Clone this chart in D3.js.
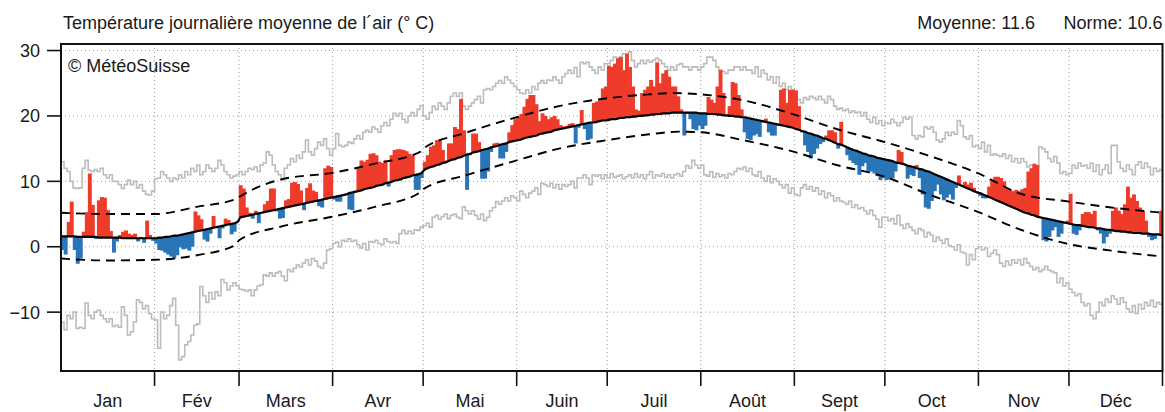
<!DOCTYPE html>
<html><head><meta charset="utf-8">
<script src="https://cdn.jsdelivr.net/npm/d3@7"></script>
<style>
body{margin:0;background:#fff}
svg{display:block}
text{font-family:"Liberation Sans",Arial,Helvetica,sans-serif;fill:#1a1a1a}
</style>
</head><body>
<svg id="c" width="1165" height="412"></svg>
<script>
const monthNames = ["Jan","Fév","Mars","Avr","Mai","Juin","Juil","Août","Sept","Oct","Nov","Déc"];
const monthStarts = [0,31,59,90,120,151,181,212,243,273,304,334,365];
const yTicks = [-10,0,10,20,30];
const yTickLabels = ["\u221210","0","10","20","30"];
const titleText = "Température journalière moyenne de l\u00B4air (° C)";
const meanText = "Moyenne: 11.6";
const normText = "Norme: 10.6";
const creditText = "© MétéoSuisse";

// daily mean temperature (°C), one value per day
const dailyMean = [].concat(
 [-0.5,-1.2,3.8,6.9,-0.5,-2.6,-1.8,2.3,5.3,11.2,6.4,1.2,7.1,7.6,7.5,5.6,2.4,-0.9,0.8,1.8,2.3,2.5,2.0,1.8,2.0,0.8,1.5,0.6,4.0,1.8,0.9],
 [0.5,-0.5,-0.6,-0.9,-1.2,-1.5,-1.8,-1.3,-0.1,-0.4,-0.3,-0.6,0.0,5.4,4.8,4.2,1.1,0.8,2.0,4.7,3.0,1.3,2.8,4.3,4.1,1.9,2.3,3.9],
 [9.4,8.9,6.0,5.2,4.3,5.5,3.6,5.3,6.5,7.0,8.9,8.9,5.4,4.3,4.4,7.1,7.3,9.8,9.9,9.6,8.6,5.6,9.0,9.7,8.6,8.4,6.2,6.0,12.0,12.4,12.2],
 [7.2,6.9,6.9,7.8,8.1,5.7,5.6,8.6,12.0,13.2,13.0,13.3,14.2,14.3,14.0,13.0,12.8,13.2,9.2,14.0,14.8,14.9,14.9,14.8,14.6,14.2,13.9,8.7,8.7,10.5],
 [13.0,14.0,15.3,15.5,16.3,16.3,14.8,13.2,15.8,15.8,18.3,18.0,22.6,17.8,8.7,14.0,17.3,17.3,16.0,10.4,10.4,11.5,14.5,15.8,15.9,13.5,13.5,14.5,17.5,18.6,19.5],
 [19.8,20.3,21.4,22.6,23.2,23.2,21.8,19.2,20.4,20.0,19.5,19.8,20.0,19.5,18.6,18.4,18.5,18.8,18.9,15.8,18.2,20.9,18.0,16.3,16.5,22.0,22.2,22.4,24.2,24.5],
 [27.7,27.5,28.0,28.8,29.0,27.0,29.5,27.5,24.5,21.0,20.8,23.5,24.0,24.5,25.5,24.5,28.2,25.0,26.5,27.0,26.0,24.5,24.5,23.0,21.0,17.0,20.3,19.5,18.0,17.8,18.5],
 [18.0,18.5,22.9,22.5,22.0,24.5,27.0,23.5,20.0,21.5,25.2,25.0,23.2,21.0,17.5,16.5,16.3,17.0,17.2,16.8,19.0,19.6,17.5,17.0,17.0,18.5,24.0,24.2,22.0,24.0,24.0],
 [23.9,21.5,17.5,15.5,14.5,13.5,14.2,15.0,15.7,16.0,17.0,17.8,17.8,17.5,15.0,19.1,15.5,14.0,13.2,12.8,12.5,11.0,12.3,12.8,11.5,11.5,11.2,10.8,10.2,10.5],
 [10.2,10.3,10.5,11.5,14.8,14.5,12.5,10.4,11.0,10.8,12.5,10.5,8.0,6.0,5.8,7.0,8.5,9.5,8.0,7.1,7.5,8.0,7.2,9.0,10.9,9.5,9.9,9.5,9.8,9.0,8.5],
 [7.8,7.4,7.4,9.2,10.2,10.7,10.7,10.5,10.0,9.0,8.7,8.5,8.7,8.5,8.8,9.0,11.5,12.0,12.7,12.5,4.5,1.0,0.8,1.5,2.5,3.0,1.5,2.0,3.5,4.0],
 [8.1,2.0,1.8,2.5,5.0,5.3,5.3,5.0,5.5,2.5,2.0,0.5,1.5,2.0,5.5,6.0,5.5,5.0,6.5,9.2,7.5,8.0,7.0,6.0,5.5,4.0,1.5,1.0,1.2,1.8,5.5]
);

// climatological norm (°C), one value per day
const normal = [].concat(
 [1.6,1.6,1.6,1.6,1.6,1.5,1.5,1.5,1.5,1.5,1.5,1.5,1.4,1.4,1.4,1.4,1.4,1.4,1.4,1.4,1.3,1.3,1.3,1.3,1.3,1.3,1.3,1.3,1.3,1.3,1.3],
 [1.3,1.4,1.4,1.5,1.5,1.6,1.7,1.7,1.8,1.9,2.0,2.1,2.2,2.3,2.4,2.5,2.6,2.7,2.8,2.9,3.0,3.1,3.2,3.3,3.4,3.5,3.6,3.8],
 [4.5,4.6,4.7,4.8,4.9,5.0,5.1,5.2,5.3,5.4,5.5,5.6,5.7,5.8,5.9,6.0,6.1,6.2,6.3,6.4,6.5,6.6,6.7,6.8,6.9,7.0,7.1,7.2,7.3,7.4,7.5],
 [7.6,7.7,7.8,7.9,8.0,8.2,8.3,8.4,8.5,8.6,8.8,8.9,9.0,9.1,9.3,9.4,9.5,9.7,9.8,9.9,10.1,10.2,10.3,10.5,10.6,10.7,10.9,11.0,11.1,11.3],
 [11.8,12.0,12.2,12.3,12.5,12.6,12.8,12.9,13.1,13.3,13.4,13.6,13.7,13.9,14.1,14.2,14.4,14.5,14.6,14.8,14.9,15.0,15.2,15.3,15.4,15.6,15.7,15.8,16.0,16.1,16.2],
 [16.3,16.4,16.6,16.7,16.8,16.9,17.0,17.2,17.3,17.4,17.5,17.6,17.8,17.9,18.0,18.1,18.2,18.3,18.4,18.5,18.6,18.7,18.8,18.9,19.0,19.0,19.1,19.2,19.3,19.3],
 [19.4,19.5,19.5,19.6,19.7,19.7,19.8,19.8,19.9,19.9,20.0,20.0,20.1,20.1,20.2,20.2,20.3,20.3,20.4,20.4,20.4,20.5,20.5,20.5,20.5,20.5,20.5,20.5,20.5,20.5,20.4],
 [20.4,20.4,20.3,20.3,20.3,20.2,20.2,20.1,20.1,20.0,20.0,19.9,19.9,19.8,19.8,19.7,19.6,19.5,19.4,19.3,19.2,19.1,19.0,18.9,18.8,18.7,18.6,18.5,18.4,18.3,18.2],
 [18.0,17.9,17.7,17.6,17.4,17.3,17.1,17.0,16.8,16.6,16.5,16.3,16.1,15.9,15.7,15.6,15.4,15.2,15.0,14.8,14.7,14.5,14.3,14.2,14.0,13.9,13.8,13.6,13.5,13.4],
 [13.3,13.2,13.1,12.9,12.8,12.7,12.6,12.4,12.3,12.2,12.0,11.9,11.8,11.6,11.5,11.3,11.1,10.9,10.7,10.5,10.3,10.1,9.9,9.7,9.5,9.3,9.1,8.9,8.7,8.5,8.3],
 [8.2,8.0,7.8,7.6,7.4,7.2,7.0,6.8,6.6,6.4,6.2,6.0,5.8,5.6,5.4,5.2,5.1,4.9,4.8,4.6,4.5,4.4,4.3,4.2,4.1,4.0,3.9,3.8,3.7,3.6],
 [3.5,3.4,3.3,3.3,3.2,3.1,3.0,3.0,2.9,2.8,2.8,2.7,2.6,2.6,2.5,2.4,2.4,2.3,2.3,2.2,2.2,2.1,2.1,2.1,2.0,2.0,2.0,1.9,1.9,1.9,1.8]
);

// highest daily mean on record (°C)
const recordMax = [].concat(
 [13.0,12.0,11.5,10.0,9.0,8.9,9.0,12.0,13.2,11.7,11.5,11.8,11.5,12.0,11.0,10.5,11.0,10.0,10.0,9.5,8.9,9.5,10.2,9.5,10.0,9.0,9.5,8.5,8.0,7.9,8.5],
 [10.4,10.5,11.5,11.0,10.5,10.0,10.5,10.3,11.0,10.5,11.5,11.0,12.0,11.5,12.5,11.0,11.5,12.5,12.0,11.5,12.0,13.2,12.5,11.5,11.0,10.5,10.8,11.0],
 [11.5,11.0,11.5,12.0,11.8,12.2,11.5,12.5,12.8,14.5,14.0,12.5,11.5,11.0,10.2,12.0,12.5,13.5,13.0,14.0,13.5,14.5,16.3,14.5,14.0,15.0,16.0,15.5,16.5,15.0,14.0],
 [15.0,17.3,15.5,15.3,15.5,16.0,15.8,16.5,17.0,16.5,17.5,17.8,17.5,18.3,18.0,17.5,18.5,19.0,18.5,19.5,20.4,20.0,20.4,19.5,19.0,20.0,20.5,20.0,21.0,21.6],
 [20.0,19.5,20.5,21.5,21.0,22.0,21.5,21.0,22.0,23.0,23.5,23.0,23.5,21.5,21.0,21.5,22.0,22.5,23.0,22.0,24.0,24.2,24.0,24.5,25.0,25.4,25.0,26.0,25.5,25.0,24.5],
 [24.0,23.5,23.4,24.0,23.5,24.5,24.0,25.0,25.4,25.0,25.5,25.4,26.0,25.5,25.0,26.0,26.5,27.0,26.5,27.4,26.0,28.2,28.0,28.2,27.5,27.0,26.5,27.5,27.0,28.0],
 [28.0,28.5,29.0,28.8,29.0,29.5,29.5,29.8,28.5,27.5,28.0,28.5,28.0,28.5,28.2,28.5,28.8,28.5,28.0,27.5,27.0,27.5,27.0,27.8,28.0,27.5,27.5,27.0,27.5,27.5,27.0],
 [27.5,28.0,29.0,29.0,28.5,27.5,27.0,26.8,26.5,27.0,27.0,27.5,27.5,27.0,27.5,27.0,27.0,26.5,27.5,26.0,27.0,26.5,25.5,26.0,25.0,26.0,24.5,25.0,24.0,24.5,24.0],
 [23.0,22.5,22.0,22.8,22.5,23.0,22.8,22.5,23.0,22.5,22.0,23.0,22.5,21.5,21.0,21.2,20.8,21.0,20.5,20.8,20.5,20.6,20.0,20.5,19.5,19.0,19.8,18.8,19.3,18.5],
 [19.0,18.8,19.5,19.0,18.5,19.0,19.8,19.5,19.8,17.0,16.5,17.0,16.8,18.3,18.0,18.3,17.5,16.3,16.0,16.5,17.5,17.0,17.5,17.2,19.3,18.5,16.8,16.5,17.0,15.3,15.5],
 [15.0,16.0,14.5,15.5,14.0,14.2,14.0,13.8,14.2,13.5,14.0,13.0,13.5,12.8,13.5,13.0,12.2,12.5,12.0,12.2,15.3,15.0,14.5,13.5,13.0,13.8,12.8,11.2,11.5,11.0],
 [11.2,12.5,12.0,12.8,12.3,12.5,12.0,12.8,11.5,12.5,11.0,11.8,12.5,11.2,15.5,15.5,13.0,12.0,11.5,12.5,11.8,11.0,12.5,13.0,12.0,12.8,12.2,11.0,12.0,11.5,11.8]
);

// lowest daily mean on record (°C)
const recordMin = [].concat(
 [-11.5,-12.7,-10.5,-11.0,-10.0,-12.5,-12.3,-12.5,-8.6,-10.5,-11.0,-10.0,-9.7,-10.5,-11.0,-11.5,-11.0,-12.2,-12.0,-12.3,-9.2,-10.5,-13.5,-13.0,-11.5,-8.1,-8.5,-9.5,-9.0,-10.2,-11.0],
 [-11.2,-15.5,-10.0,-11.0,-10.5,-9.0,-7.9,-12.0,-17.3,-16.8,-15.0,-14.5,-13.5,-12.0,-11.8,-6.1,-7.5,-8.5,-7.0,-8.0,-6.9,-7.5,-5.0,-5.5,-6.6,-6.0,-5.5,-6.0],
 [-6.5,-6.6,-6.8,-6.6,-7.5,-6.6,-6.0,-5.8,-4.3,-4.5,-4.0,-4.5,-4.0,-3.8,-4.5,-5.2,-3.5,-3.8,-3.3,-2.8,-3.1,-2.5,-2.0,-2.8,-1.8,-2.2,-3.0,-3.3,-2.5,-0.5,-0.3],
 [0.5,0.7,0.0,1.0,0.8,1.2,0.8,1.0,0.3,-0.2,0.5,-0.5,0.8,0.7,1.0,0.5,0.3,1.2,0.8,0.6,0.8,0.5,2.0,2.5,2.0,2.4,2.0,2.6,2.5,3.0],
 [3.2,3.6,3.0,4.5,4.8,4.2,4.6,5.0,4.3,4.8,5.0,4.5,4.3,6.1,5.5,5.0,5.5,4.8,4.2,5.0,4.0,4.5,5.5,6.0,6.9,6.5,7.0,7.5,7.0,7.8,7.5],
 [7.0,8.5,8.0,7.5,8.2,8.5,9.0,8.0,9.7,9.5,9.2,9.7,9.0,9.5,8.8,9.5,9.2,9.5,10.0,9.0,10.5,10.5,11.0,10.5,9.5,11.0,10.8,11.0,10.4,11.0],
 [10.5,11.2,10.6,10.8,11.0,10.4,10.7,11.0,10.5,11.2,10.6,11.0,10.4,11.0,11.5,10.5,11.0,10.8,11.2,10.6,11.0,10.5,11.0,11.2,10.8,11.5,12.4,12.0,13.2,12.5,12.0],
 [12.5,11.0,10.8,11.5,10.6,11.2,10.7,11.0,10.5,11.2,11.0,11.5,12.0,11.8,12.2,11.5,12.0,11.0,10.8,11.5,10.5,10.0,10.8,9.8,10.4,10.0,9.5,9.0,9.5,8.2,9.0],
 [8.0,7.8,9.0,9.5,8.8,9.2,8.5,9.0,8.0,8.5,7.5,8.2,7.8,7.0,7.5,7.0,6.8,6.5,7.0,6.0,6.4,5.8,6.0,5.5,5.0,5.6,4.8,4.2,3.0,4.5],
 [4.5,4.0,4.3,3.5,4.8,3.3,2.8,3.5,3.0,2.5,2.0,2.8,2.5,1.5,2.2,1.8,0.8,1.5,1.0,0.5,1.2,0.2,0.0,-0.5,0.3,-0.8,-1.0,-2.8,-1.2,-2.0,-0.3],
 [0.0,-0.5,-0.2,-1.5,-1.0,-0.5,-1.2,-2.5,-3.0,-2.2,-2.8,-2.0,-2.5,-2.0,-2.8,-1.8,-2.5,-3.0,-3.5,-3.2,-3.8,-3.5,-3.0,-3.6,-3.8,-4.0,-5.5,-4.8,-6.0,-5.5],
 [-6.5,-7.0,-7.5,-7.2,-8.5,-9.0,-8.7,-10.5,-11.0,-10.0,-8.5,-9.0,-8.0,-8.5,-7.5,-8.0,-8.8,-7.8,-8.5,-9.5,-10.0,-9.0,-10.2,-8.8,-9.5,-8.5,-9.0,-8.2,-9.2,-8.5,-8.8]
);

// norm + / - one standard deviation, [day, value]
const upperBand = [[0,5.2],[15,5.0],[31,5.0],[45,6.1],[58,7.3],[59,7.6],[73,10.3],[90,11.3],[104,12.7],[119,14.5],[120,15.0],[134,17.4],[151,19.8],[165,21.5],[181,22.7],[195,23.3],[203,23.5],[212,23.3],[226,22.4],[243,20.2],[257,18.0],[273,16.0],[287,14.0],[304,11.2],[318,8.1],[334,6.9],[348,6.0],[365,5.2]];
const lowerBand = [[0,-1.8],[15,-2.1],[31,-2.0],[45,-1.3],[58,0.3],[59,1.0],[73,3.1],[90,4.6],[104,6.1],[119,8.3],[120,8.8],[134,10.9],[151,13.2],[165,15.0],[181,16.3],[195,17.2],[205,17.6],[212,17.5],[226,16.3],[243,14.5],[257,12.5],[273,10.7],[287,8.1],[304,5.3],[318,2.6],[334,0.4],[348,-0.6],[365,-1.5]];

const RED = "#ee3b2a", BLUE = "#2a75b8", GRAY = "#bcbcbc";
const L = 61, R = 1162.5, T = 44, B = 371;

const svg = d3.select("#c");
const x = d3.scaleLinear().domain([0, 365]).range([L, R]);
const y = d3.scaleLinear().domain([-19, 31]).range([B, T]);

svg.append("defs").append("clipPath").attr("id", "clip")
  .append("rect").attr("x", L).attr("y", T).attr("width", R - L).attr("height", B - T);

const plot = svg.append("g").attr("clip-path", "url(#clip)");

// grid
plot.selectAll("line.hg").data(yTicks).join("line")
  .attr("x1", L).attr("x2", R).attr("y1", d => y(d)).attr("y2", d => y(d))
  .attr("stroke", "#999").attr("stroke-width", 1).attr("stroke-dasharray", "1,3");
plot.selectAll("line.vg").data(monthStarts.slice(1, 12)).join("line")
  .attr("x1", d => x(d)).attr("x2", d => x(d)).attr("y1", T).attr("y2", B)
  .attr("stroke", "#999").attr("stroke-width", 1).attr("stroke-dasharray", "1,3");

// record envelopes (step lines)
const step = d3.line().curve(d3.curveStepAfter).x(d => x(d[0])).y(d => y(d[1]));
[recordMax, recordMin].forEach(arr => {
  const pts = arr.map((v, i) => [i, v]);
  pts.push([365, arr[arr.length - 1]]);
  plot.append("path").attr("d", step(pts)).attr("fill", "none")
    .attr("stroke", GRAY).attr("stroke-width", 1.6);
});

// anomaly bars
const bw = x(1) - x(0);
plot.selectAll("rect.bar").data(dailyMean).join("rect")
  .attr("x", (v, i) => x(i) - 0.3)
  .attr("width", bw + 0.9)
  .attr("y", (v, i) => y(Math.max(v, normal[i])))
  .attr("height", (v, i) => Math.abs(y(v) - y(normal[i])))
  .attr("fill", (v, i) => v >= normal[i] ? RED : BLUE);

// norm line
const normPts = normal.map((v, i) => [i + 0.5, v]);
normPts.unshift([0, normal[0]]);
normPts.push([365, normal[364]]);
const smooth = d3.line().curve(d3.curveMonotoneX).x(d => x(d[0])).y(d => y(d[1]));
plot.append("path").attr("d", smooth(normPts)).attr("fill", "none")
  .attr("stroke", "#000").attr("stroke-width", 2.2);

// +/- sd bands
[upperBand, lowerBand].forEach(b => {
  plot.append("path").attr("d", smooth(b)).attr("fill", "none")
    .attr("stroke", "#000").attr("stroke-width", 1.9).attr("stroke-dasharray", "9,6");
});

// frame
svg.append("rect").attr("x", L).attr("y", T).attr("width", R - L).attr("height", B - T)
  .attr("fill", "none").attr("stroke", "#111").attr("stroke-width", 2);

// y axis ticks & labels
svg.selectAll("line.yt").data(yTicks).join("line")
  .attr("x1", L - 14).attr("x2", L).attr("y1", d => y(d)).attr("y2", d => y(d))
  .attr("stroke", "#111").attr("stroke-width", 1.6);
svg.selectAll("text.yl").data(yTicks).join("text")
  .attr("x", L - 21).attr("y", d => y(d)).attr("dy", "0.36em")
  .attr("text-anchor", "end").attr("font-size", 18)
  .text((d, i) => yTickLabels[i]);

// x axis month ticks & labels
svg.selectAll("line.xt").data(monthStarts.slice(1)).join("line")
  .attr("x1", d => x(d)).attr("x2", d => x(d)).attr("y1", B).attr("y2", B + 15)
  .attr("stroke", "#111").attr("stroke-width", 1.6);
svg.selectAll("text.ml").data(monthNames).join("text")
  .attr("x", (d, i) => x((monthStarts[i] + monthStarts[i + 1]) / 2))
  .attr("y", 407).attr("text-anchor", "middle").attr("font-size", 18)
  .text(d => d);

// titles
svg.append("text").attr("x", 63).attr("y", 29).attr("font-size", 18).text(titleText);
svg.append("text").attr("x", R).attr("y", 29).attr("text-anchor", "end").attr("font-size", 18).text(normText);
svg.append("text").attr("x", 1035).attr("y", 29).attr("text-anchor", "end").attr("font-size", 18).text(meanText);
svg.append("text").attr("x", 68).attr("y", 72).attr("font-size", 18).text(creditText);
</script>
</body></html>
